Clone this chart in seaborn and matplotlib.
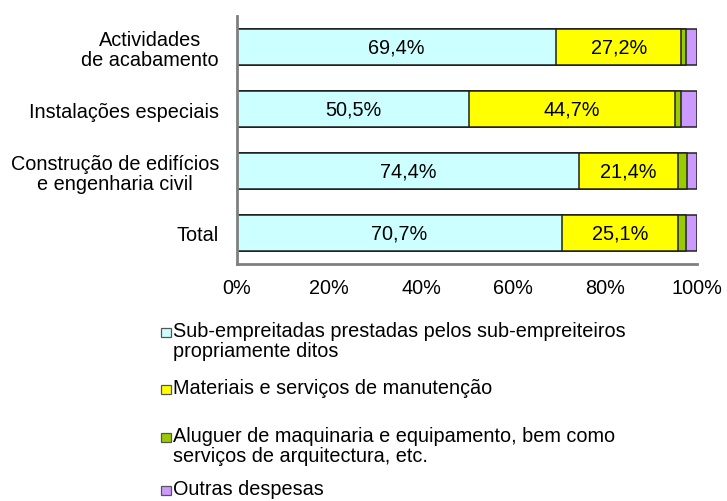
import numpy as np
import pandas as pd
import matplotlib
matplotlib.use('Agg')
import matplotlib.pyplot as plt
from matplotlib.patches import Rectangle
import seaborn as sns

# Data (shares in %)
categories = ['Actividades\nde acabamento', 'Instalações especiais',
              'Construção de edifícios\ne engenharia civil', 'Total']
subempreitadas = [69.4, 50.5, 74.4, 70.7]
materiais = [27.2, 44.7, 21.4, 25.1]
aluguer = [1.1, 1.3, 2.1, 1.9]
outras = [2.3, 3.5, 2.1, 2.3]

series_names = ['Sub-empreitadas prestadas pelos sub-empreiteiros\npropriamente ditos',
                'Materiais e serviços de manutenção',
                'Aluguer de maquinaria e equipamento, bem como\nserviços de arquitectura, etc.',
                'Outras despesas']
colors = ['#CCFFFF', '#FFFF00', '#99CC00', '#CC99FF']
tick_values = [0, 20, 40, 60, 80, 100]
tick_labels = ['0%', '20%', '40%', '60%', '80%', '100%']

sns.set_style('white')
plt.rcParams['font.family'] = ['Liberation Sans', 'DejaVu Sans']
plt.rcParams['text.color'] = 'black'
plt.rcParams['xtick.labelcolor'] = 'black'
plt.rcParams['ytick.labelcolor'] = 'black'
FS = 14.3

df = pd.DataFrame({'cat': categories, 's1': subempreitadas, 's2': materiais,
                   's3': aluguer, 's4': outras})
cum = df[['s1', 's2', 's3', 's4']].cumsum(axis=1)

fig = plt.figure(figsize=(7.27, 5.02), dpi=100)
ax = fig.add_axes([237 / 727, 1 - 265 / 502, 460 / 727, 248 / 502])

# stacked bars: draw cumulative totals from the outermost layer inwards
for col, c in zip(['s4', 's3', 's2', 's1'], colors[::-1]):
    sns.barplot(x=cum[col], y=df['cat'], orient='h', color=c, edgecolor='#222222',
                linewidth=1.1, width=0.565, errorbar=None, ax=ax, saturation=1)

# value labels for the two main segments
for i in range(len(categories)):
    ax.text(subempreitadas[i] / 2, i, f"{subempreitadas[i]:.1f}%".replace('.', ','),
            ha='center', va='center', fontsize=FS)
    ax.text(subempreitadas[i] + materiais[i] / 2, i, f"{materiais[i]:.1f}%".replace('.', ','),
            ha='center', va='center', fontsize=FS)

ax.set_xlim(0, 100)
ax.set_ylim(len(categories) - 0.5, -0.5)
ax.set_xticks(tick_values)
ax.set_xticklabels(tick_labels, fontsize=FS)
ax.set_yticks(range(len(categories)))
ax.set_yticklabels(categories, fontsize=FS, multialignment='center', linespacing=1.05)
ax.set_yticks(np.arange(-0.5, len(categories), 1), minor=True)
ax.tick_params(axis='y', which='major', length=0, pad=13)
ax.tick_params(axis='y', which='minor', direction='in', length=5, width=1.5, color='#808080')
ax.tick_params(axis='x', direction='in', length=5, width=1.5, color='#808080', pad=10)
ax.set_xlabel('')
ax.set_ylabel('')
for side in ['top', 'right']:
    ax.spines[side].set_visible(False)
for side in ['left', 'bottom']:
    ax.spines[side].set_color('#808080')
    ax.spines[side].set_linewidth(2)

# legend below the chart
legend_y = [333, 390, 438, 491]
for name, c, y in zip(series_names, colors, legend_y):
    fig.add_artist(Rectangle((161 / 727, 1 - (y + 4.5) / 502), 10 / 727, 9 / 502,
                             transform=fig.transFigure, facecolor=c,
                             edgecolor='#555555', linewidth=0.9))
    fig.text(173 / 727, 1 - (y - 11) / 502, name, ha='left', va='top',
             fontsize=FS, linespacing=1.1)

fig.savefig('out.png', dpi=100)
